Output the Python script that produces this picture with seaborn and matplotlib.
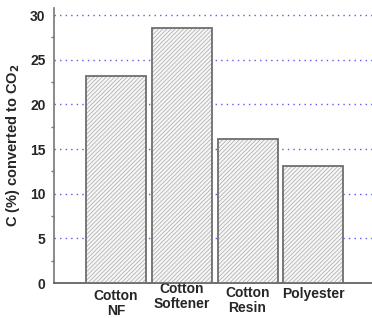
import pandas as pd
import seaborn as sns
import matplotlib.pyplot as plt
from matplotlib.colors import to_rgba
from matplotlib.ticker import MultipleLocator
from matplotlib.transforms import ScaledTranslation

# values
fabrics = ['Cotton\nNF', 'Cotton\nSoftener', 'Cotton\nResin', 'Polyester']
co2_pct = [23.2, 28.5, 16.1, 13.1]

df = pd.DataFrame({'fabric': fabrics, 'co2': co2_pct})

sns.set_style('white')
plt.rcParams['font.family'] = ['Liberation Sans', 'DejaVu Sans']
plt.rcParams['hatch.linewidth'] = 0.5

fig = plt.figure(figsize=(3.72, 3.18), dpi=100)
ax = fig.add_axes([0.145, 0.11, 0.855, 0.865])

sns.barplot(data=df, x='fabric', y='co2', ax=ax, color='#f6f6f6',
            edgecolor='#6e6e6e', linewidth=1.3, width=0.91, hatch='////////',
            zorder=3)
# lighter hatch than the outline
for p in ax.patches:
    p._hatch_color = to_rgba('#a8a8a8')

ax.set_xlim(-0.94, 3.89)
ax.set_ylim(0, 30.8)
ax.yaxis.set_major_locator(MultipleLocator(5))
ax.yaxis.set_minor_locator(MultipleLocator(2.5))

# dotted blue grid at major ticks
for v in range(5, 31, 5):
    ax.axhline(v, color='#5a5af0', linestyle=(0, (1, 3)), linewidth=1.0, zorder=1)

for s in ['top', 'right']:
    ax.spines[s].set_visible(False)
ax.spines['left'].set_color('#777777')
ax.spines['left'].set_linewidth(1.2)
ax.spines['bottom'].set_color('#555555')
ax.spines['bottom'].set_linewidth(1.2)

ax.tick_params(axis='y', which='major', direction='out', length=4, width=1,
               color='#777777', labelsize=10, pad=2)
ax.tick_params(axis='y', which='minor', direction='out', length=2.5, width=1,
               color='#777777', left=True)
ax.tick_params(axis='x', length=0, labelsize=10, pad=4)
for lbl in ax.get_yticklabels():
    lbl.set_fontweight('bold')

# staggered category labels as in the original
shifts = [0, 5, 2, 1]
for lbl, dy in zip(ax.get_xticklabels(), shifts):
    lbl.set_fontweight('bold')
    lbl.set_linespacing(1.1)
    lbl.set_transform(lbl.get_transform() + ScaledTranslation(0, dy / 72, fig.dpi_scale_trans))

ax.set_xlabel('')
ax.set_ylabel('C (%) converted to CO$_\\mathbf{2}$', fontsize=10.5, fontweight='bold', labelpad=6)

fig.savefig('out.png', dpi=100)
